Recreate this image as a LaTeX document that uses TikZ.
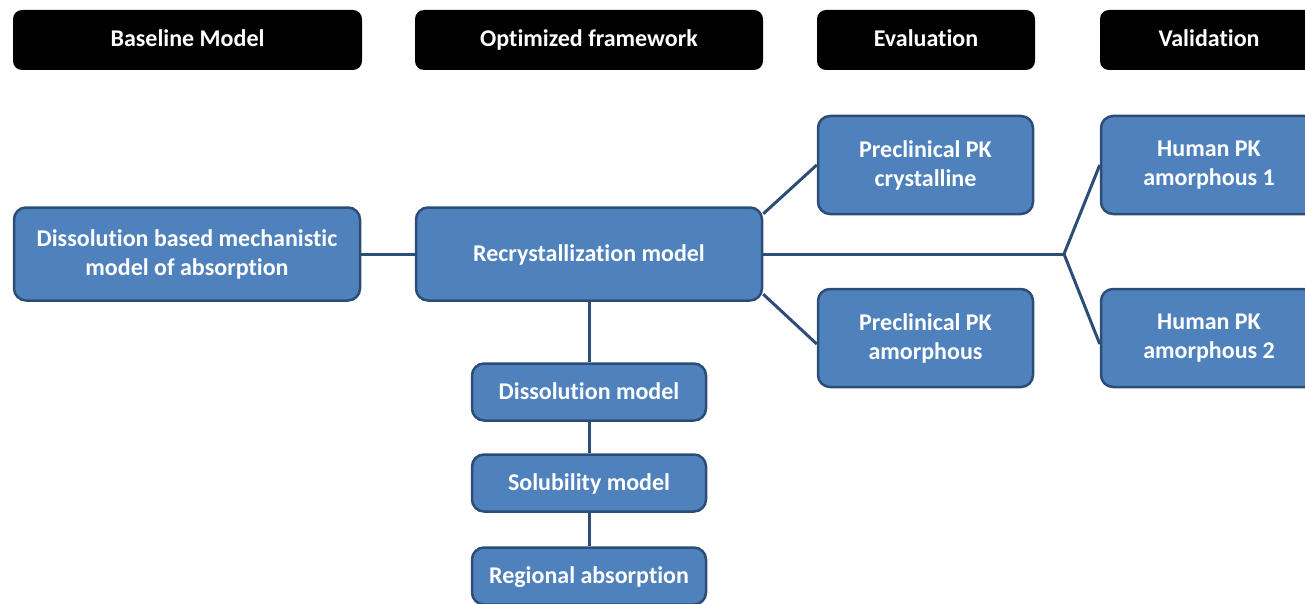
\documentclass[tikz,border=0pt]{standalone}
\usepackage{fontspec}
\setmainfont{Carlito}[Ligatures=NoCommon]
\usetikzlibrary{positioning}

\definecolor{boxblue}{HTML}{4F81BD}
\definecolor{edgeblue}{HTML}{2C4D75}

\tikzset{
	hdr/.style={rectangle, rounded corners=9pt, fill=black, text=white,
		font=\bfseries\fontsize{24}{28}\selectfont, inner sep=0pt,
		minimum height=60pt, text height=17pt, text depth=3pt},
	blk/.style={rectangle, rounded corners=12pt, draw=edgeblue, line width=2.5pt,
		fill=boxblue, text=white, align=center, inner sep=0pt,
		font=\bfseries\fontsize{24}{29}\selectfont},
	oneline/.style={text height=17pt, text depth=3pt},
	link/.style={draw=edgeblue, line width=3pt}
}

\begin{document}
\begin{tikzpicture}[x=1pt, y=-1pt]
				\clip (0, 0) rectangle (1305, 604);
				\useasboundingbox (0, 0) rectangle (1305, 604);

				\node [hdr, minimum width=349pt] (hbase) at (187.5, 40) {Baseline Model};
				\node [hdr, minimum width=348pt] (hopt) at (589, 40) {Optimized framework};
				\node [hdr, minimum width=218pt] (heval) at (926, 40) {Evaluation};
				\node [hdr, minimum width=218pt] (hval) at (1209, 40) {Validation};

				\node [blk, minimum width=346pt, minimum height=93pt] (base) at (187, 254) {Dissolution based mechanistic\\model of absorption};
				\node [blk, oneline, minimum width=346pt, minimum height=93pt] (recryst) at (589, 254) {Recrystallization model};
				\node [blk, minimum width=215pt, minimum height=98pt] (pkcryst) at (925.5, 165) {Preclinical PK\\crystalline};
				\node [blk, minimum width=215pt, minimum height=98pt] (pkamor) at (925.5, 338) {Preclinical PK\\amorphous};
				\node [blk, minimum width=216pt, minimum height=98pt] (hum1) at (1209, 165) {Human PK\\amorphous 1};
				\node [blk, minimum width=216pt, minimum height=98pt] (hum2) at (1209, 338) {Human PK\\amorphous 2};
				\node [blk, oneline, minimum width=234pt, minimum height=57pt] (dissol) at (589, 392) {Dissolution model};
				\node [blk, oneline, minimum width=234pt, minimum height=57pt] (solub) at (589, 483) {Solubility model};
				\node [blk, oneline, minimum width=234pt, minimum height=57pt] (region) at (589, 576) {Regional absorption};

				\coordinate (split) at (1064, 254);

				\draw [link] (base) to (recryst);
				\draw [link] (recryst.13) to (pkcryst.west);
				\draw [link] (recryst.-13) to ([yshift=-6pt]pkamor.west);
				\draw [link] (recryst) to (split);
				\draw [link] (split) to (hum1.west);
				\draw [link] (split) to ([yshift=-6pt]hum2.west);
				\draw [link] (recryst) to (dissol);
				\draw [link] (dissol) to (solub);
				\draw [link] (solub) to (region);
		\end{tikzpicture}
\end{document}
